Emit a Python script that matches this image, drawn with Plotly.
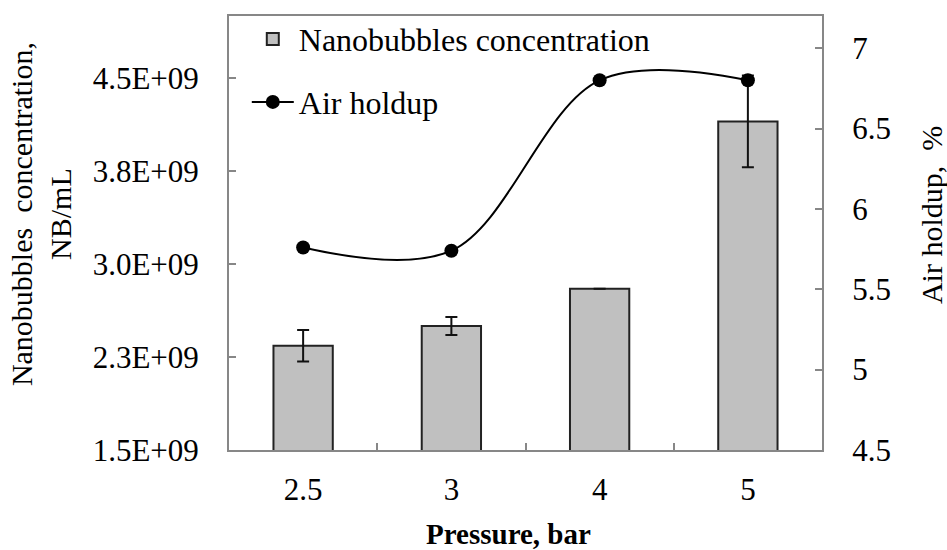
import plotly.graph_objects as go

pressure = ["2.5", "3", "4", "5"]
nb_conc = [2.34e9, 2.50e9, 2.80e9, 4.15e9]
nb_err = [0.127e9, 0.072e9, 0.0, 0.37e9]
air_holdup = [5.76, 5.74, 6.80, 6.80]

left_tickvals = [1.5e9, 2.25e9, 3.0e9, 3.75e9, 4.5e9]
left_ticktext = ["1.5E+09", "2.3E+09", "3.0E+09", "3.8E+09", "4.5E+09"]
right_tickvals = [4.5, 5, 5.5, 6, 6.5, 7]
right_ticktext = ["4.5", "5", "5.5", "6", "6.5", "7"]

FONT = "Liberation Serif"
FS_TICK = 31
FS_LEG = 32
FS_TITLE = 30
AXC = "#878787"

fig = go.Figure()
fig.add_trace(go.Bar(
    x=pressure, y=nb_conc, name="Nanobubbles concentration",
    width=0.4,
    marker=dict(color="#C0C0C0", line=dict(color="#222222", width=2)),
    error_y=dict(type="data", array=nb_err, visible=True, color="#111111", thickness=2, width=6),
    legend="legend",
))
fig.add_trace(go.Scatter(
    x=pressure, y=air_holdup, name="Air holdup", yaxis="y2",
    mode="lines+markers",
    line=dict(color="#000000", width=2, shape="spline", smoothing=1),
    marker=dict(color="#000000", size=14),
    legend="legend2",
))

fig.update_layout(
    width=947, height=550,
    margin=dict(l=229, r=125, t=14, b=100),
    paper_bgcolor="white", plot_bgcolor="white",
    font=dict(family=FONT, size=FS_TICK, color="#000000"),
    showlegend=True,
    legend=dict(x=0.03, y=1.01, xanchor="left", yanchor="top", bgcolor="rgba(0,0,0,0)",
                font=dict(family=FONT, size=FS_LEG), itemwidth=42),
    legend2=dict(x=0.03, y=0.865, xanchor="left", yanchor="top", bgcolor="rgba(0,0,0,0)",
                 font=dict(family=FONT, size=FS_LEG), itemwidth=42),
    xaxis=dict(
        type="category", range=[-0.5, 3.5],
        showline=True, linecolor=AXC, linewidth=2, mirror=True,
        ticks="inside", tickson="boundaries", ticklen=7, tickcolor=AXC, tickwidth=2,
        showgrid=False, zeroline=False,
        tickfont=dict(family=FONT, size=FS_TICK), ticklabelstandoff=11,
    ),
    yaxis=dict(
        range=[1.5e9, 5.0e9], tickvals=left_tickvals, ticktext=left_ticktext,
        showline=True, linecolor=AXC, linewidth=2,
        ticks="inside", ticklen=7, tickcolor=AXC, tickwidth=2,
        showgrid=False, zeroline=False,
        tickfont=dict(family=FONT, size=FS_TICK), ticklabelstandoff=22,
    ),
    yaxis2=dict(
        range=[4.5, 7.2], tickvals=right_tickvals, ticktext=right_ticktext,
        overlaying="y", side="right",
        showline=True, linecolor=AXC, linewidth=2,
        ticks="inside", ticklen=7, tickcolor=AXC, tickwidth=2,
        showgrid=False, zeroline=False,
        tickfont=dict(family=FONT, size=FS_TICK), ticklabelstandoff=22,
    ),
    annotations=[
        dict(text="Nanobubbles  concentration,<br>NB/mL", xref="paper", yref="paper",
             x=-0.317, y=(450 - 213) / 436, xanchor="center", yanchor="middle", textangle=-90,
             showarrow=False, font=dict(family=FONT, size=FS_TITLE)),
        dict(text="Air holdup,  %", xref="paper", yref="paper",
             x=(931 - 229) / 593, y=(450 - 214) / 436, xanchor="center", yanchor="middle",
             textangle=-90, showarrow=False, font=dict(family=FONT, size=FS_TITLE)),
        dict(text="<b>Pressure, bar</b>", xref="paper", yref="paper",
             x=(508 - 229) / 593, y=(450 - 534) / 436, xanchor="center", yanchor="middle",
             showarrow=False, font=dict(family=FONT, size=29)),
    ],
)

fig.write_html("out.html")
